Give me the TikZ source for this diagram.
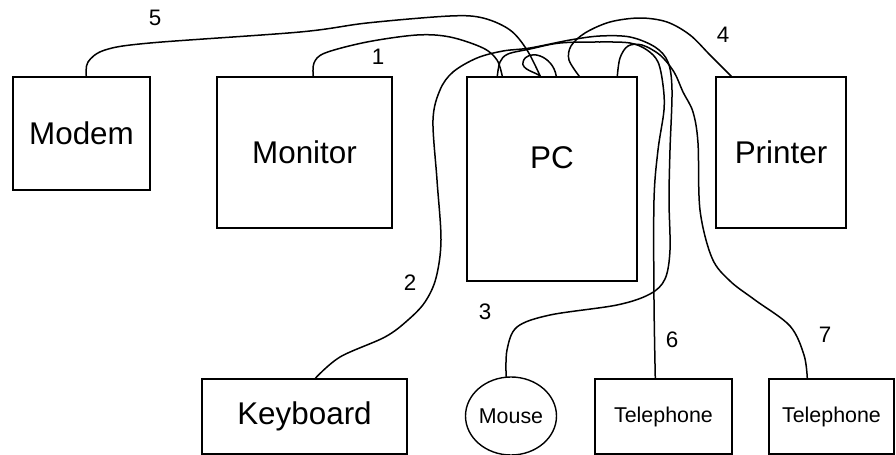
\documentclass[tikz,border=0pt]{standalone}
\usepackage{fontspec}
\setmainfont{Liberation Sans}
\usetikzlibrary{calc,shapes.geometric}
\begin{document}
\begin{tikzpicture}[x=0.5pt,y=-0.5pt,
  box/.style={draw, line width=0.7pt, rectangle, inner sep=0pt, font=\fontsize{15.7pt}{18pt}\selectfont},
  smallbox/.style={draw, line width=0.7pt, rectangle, inner sep=0pt, font=\fontsize{10.7pt}{13pt}\selectfont},
  cable/.style={line width=0.75pt, line cap=round, line join=round},
  num/.style={font=\fontsize{11.2pt}{13pt}\selectfont, inner sep=0pt}]
\useasboundingbox (0,0) rectangle (896,455);
% devices
\node[box, minimum width=68.5pt, minimum height=56.5pt] (modem) at (81.5,133.5) {Modem};
\node[box, minimum width=87.5pt, minimum height=75.5pt] (monitor) at (304.5,152.5) {Monitor};
\node[box, minimum width=85pt, minimum height=102pt] (pc) at (552,179) {};
\node[font=\fontsize{15.7pt}{18pt}\selectfont, inner sep=0pt] (pclabel) at (552,158) {PC};
\node[box, minimum width=65pt, minimum height=75.5pt] (printer) at (781,152.5) {Printer};
\node[box, minimum width=102.5pt, minimum height=37.5pt] (keyboard) at (304.5,416.5) {Keyboard};
\node[draw, line width=0.7pt, ellipse, inner sep=0pt, minimum width=45.5pt, minimum height=39pt,
      font=\fontsize{10.7pt}{13pt}\selectfont] (mouse) at (511,416) {Mouse};
\node[smallbox, minimum width=68.5pt, minimum height=37.5pt] (tel1) at (663.5,416.5) {Telephone};
\node[smallbox, minimum width=62.5pt, minimum height=37.5pt] (tel2) at (831.5,416.5) {Telephone};
% attachment points
\coordinate (mo) at ($(modem.north west)+(74,0)$);
\coordinate (mn) at ($(monitor.north west)+(97,0)$);
\coordinate (kb) at ($(keyboard.north west)+(114,0)$);
\coordinate (ms) at (mouse.97);
\coordinate (t1) at ($(tel1.north west)+(61,0)$);
\coordinate (t2) at ($(tel2.north west)+(39,0)$);
\coordinate (pr) at ($(printer.north west)+(16,0)$);
\coordinate (pa) at ($(pc.north west)+(31,0)$);
\coordinate (pb) at ($(pc.north west)+(36,0)$);
\coordinate (pc5) at ($(pc.north west)+(74,0)$);
\coordinate (pl) at ($(pc.north west)+(90,0)$);
\coordinate (p4) at ($(pc.north west)+(113,0)$);
\coordinate (p7) at ($(pc.north west)+(151,0)$);
% cable 5 modem
\draw[cable] plot[smooth, tension=0.55] coordinates {(mo) (88,62) (105,50) (150,43) (300,32) (367,23) (450,16) (483,18) (510,30) (527,50) (pc5)};
% cable 1 monitor
\draw[cable] plot[smooth, tension=0.55] coordinates {(mn) (314,63) (325,53) (367,42) (417,35) (450,37) (483,48) (497,60) (pb)};
% keyboard line over the top to mouse
\draw[cable] plot[smooth, tension=0.55] coordinates {(kb) (340,357) (385,337) (408,320) (425,302) (436,278) (441,240) (437,180) (433,120) (440,90) (453,72) (477,58) (503,51) (530,48) (570,40) (600,36) (630,37) (655,47) (668,62) (672,90) (670,150) (669,200) (670,250) (665,279) (650,294) (617,305) (550,315) (517,327) (507,350) (ms)};
% PC to telephone 1
\draw[cable] plot[smooth, tension=0.55] coordinates {(pa) (500,62) (508,54) (530,49) (560,43) (600,42) (630,43) (647,50) (658,62) (663,85) (664,110) (658,150) (654,200) (654,300) (t1)};
% loop
\draw[cable] (pl) .. controls (553,55) and (527,48) .. (523,62) .. controls (521,70) and (536,72) .. (pc5);
% cable 4 printer
\draw[cable] plot[smooth, tension=0.55] coordinates {(p4) (569,60) (571,46) (585,33) (610,22) (640,18) (667,22) (690,35) (710,55) (pr)};
% cable 7 telephone 2
\draw[cable] plot[smooth, tension=0.55] coordinates {(p7) (620,58) (628,46) (642,45) (660,55) (674,72) (683,92) (693,112) (698,143) (700,210) (712,258) (730,281) (755,300) (790,326) (804,355) (t2)};
% labels
\node[num] (n5) at (155,18) {5};
\node[num] (n1) at (378,57) {1};
\node[num] (n4) at (723,35) {4};
\node[num] (n2) at (410,283) {2};
\node[num] (n3) at (485,312) {3};
\node[num] (n6) at (672,340) {6};
\node[num] (n7) at (825,335) {7};
\end{tikzpicture}
\end{document}
